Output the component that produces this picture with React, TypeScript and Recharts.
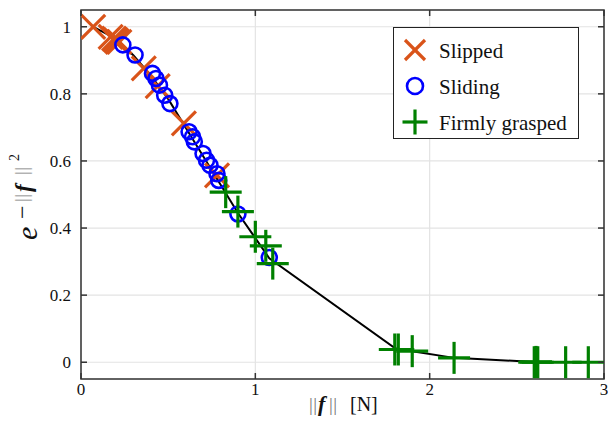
import { ComposedChart, Line, Scatter, XAxis, YAxis, CartesianGrid, ReferenceArea, Legend } from 'recharts'

// fitted curve
const curveX = [0.07, 0.2, 0.3, 0.4, 0.5, 0.6, 0.7, 0.8, 0.9, 1.0, 1.08, 1.8, 1.9, 2.14, 2.6, 2.91]
const curveY = [1.0, 0.965, 0.915, 0.855, 0.785, 0.70, 0.615, 0.53, 0.445, 0.37, 0.31, 0.042, 0.033, 0.013, 0.001, 0.0]

const slippedX = [0.07, 0.17, 0.19, 0.2, 0.21, 0.22, 0.36, 0.44, 0.59, 0.78]
const slippedY = [1.0, 0.97, 0.965, 0.96, 0.955, 0.955, 0.876, 0.823, 0.712, 0.557]

const slidingX = [0.24, 0.31, 0.41, 0.43, 0.45, 0.48, 0.51, 0.62, 0.64, 0.65, 0.7, 0.72, 0.74, 0.78, 0.79, 0.9, 1.08]
const slidingY = [0.946, 0.916, 0.861, 0.846, 0.826, 0.796, 0.771, 0.687, 0.672, 0.657, 0.622, 0.602, 0.587, 0.562, 0.542, 0.442, 0.312]

const graspedX = [0.83, 0.9, 1.0, 1.06, 1.1, 1.8, 1.82, 1.9, 2.14, 2.6, 2.61, 2.62, 2.78, 2.91]
const graspedY = [0.507, 0.449, 0.374, 0.347, 0.294, 0.038, 0.038, 0.033, 0.013, 0.0, 0.001, 0.0, 0.0, 0.0]

const xTicks = [0, 1, 2, 3]
const yTicks = [0, 0.2, 0.4, 0.6, 0.8, 1]

const zip = (xs: number[], ys: number[]) => xs.map((x, i) => ({ x, y: ys[i] }))
const curve = zip(curveX, curveY)
const slipped = zip(slippedX, slippedY)
const sliding = zip(slidingX, slidingY)
const grasped = zip(graspedX, graspedY)

const ORANGE = '#D95319'
const BLUE = '#0000FF'
const GREEN = '#008000'
const FONT = 'Liberation Serif'
const TOP = 10
const RIGHT = 604

const XMark = ({ cx, cy, s = 12 }: any) => (
  <g stroke={ORANGE} strokeWidth={3.2}>
    <line x1={cx - s} y1={cy - s} x2={cx + s} y2={cy + s} />
    <line x1={cx - s} y1={cy + s} x2={cx + s} y2={cy - s} />
  </g>
)
const OMark = ({ cx, cy, r = 7.5 }: any) => (
  <circle cx={cx} cy={cy} r={r} fill="none" stroke={BLUE} strokeWidth={2.6} />
)
const PlusMark = ({ cx, cy, s = 16 }: any) => (
  <g stroke={GREEN} strokeWidth={3.2}>
    <line x1={cx - s} y1={cy} x2={cx + s} y2={cy} />
    <line x1={cx} y1={cy - s} x2={cx} y2={cy + s} />
  </g>
)

const XTick = ({ x, y, payload }: any) => (
  <g>
    <line x1={x} x2={x} y1={y} y2={y - 6} stroke="#333" strokeWidth={1.5} />
    <line x1={x} x2={x} y1={TOP} y2={TOP + 6} stroke="#333" strokeWidth={1.5} />
    <text x={x} y={y + 16} textAnchor="middle" fontFamily={FONT} fontSize={17} fill="#111">{payload.value}</text>
  </g>
)

const YTick = ({ x, y, payload }: any) => (
  <g>
    <line x1={x} x2={x + 6} y1={y} y2={y} stroke="#333" strokeWidth={1.5} />
    <line x1={RIGHT} x2={RIGHT - 6} y1={y} y2={y} stroke="#333" strokeWidth={1.5} />
    <text x={x - 10} y={y + 6} textAnchor="end" fontFamily={FONT} fontSize={17} fill="#111">{payload.value}</text>
  </g>
)

const XTitle = () => {
  const y = 411
  return (
    <text y={y} fontFamily={FONT} fontSize={20} fill="#111">
      <tspan x={309} fill="#777" fontSize={19} letterSpacing={0.5}>||</tspan>
      <tspan x={318} fontStyle="italic" fontWeight="bold" fontSize={22}>f</tspan>
      <tspan x={329} fill="#777" fontSize={19} letterSpacing={0.5}>||</tspan>
      <tspan x={350}>[N]</tspan>
    </text>
  )
}

const YTitle = () => {
  const cx = 37
  const cy = 240
  return (
    <text x={cx} y={cy} transform={`rotate(-90, ${cx}, ${cy})`} fontFamily={FONT} fill="#111">
      <tspan x={cx} y={cy} fontStyle="italic" fontSize={30}>e</tspan>
      <tspan x={cx + 21} y={cy - 7} fontSize={24}>−</tspan>
      <tspan x={cx + 38} y={cy - 9} fontSize={19} fill="#777" letterSpacing={0.5}>||</tspan>
      <tspan x={cx + 48} y={cy - 6} fontSize={23} fontStyle="italic" fontWeight="bold">f</tspan>
      <tspan x={cx + 65} y={cy - 9} fontSize={19} fill="#777" letterSpacing={0.5}>||</tspan>
      <tspan x={cx + 79} y={cy - 18} fontSize={14}>2</tspan>
    </text>
  )
}

const legendItems = [
  { name: 'Slipped', mark: <XMark cx={11} cy={11} s={10} /> },
  { name: 'Sliding', mark: <OMark cx={11} cy={11} r={8} /> },
  { name: 'Firmly grasped', mark: <PlusMark cx={11} cy={11} s={12.5} /> },
]

const LegendBox = () => (
  <div style={{ width: 186, height: 112, border: '1.5px solid #222', background: '#fff', fontFamily: FONT, fontSize: 21, color: '#111', padding: '5px 0 0 10px', boxSizing: 'border-box' }}>
    {legendItems.map((it) => (
      <div key={it.name} style={{ display: 'flex', alignItems: 'center', height: 36 }}>
        <svg width={24} height={24} style={{ overflow: 'visible', marginRight: 11 }}>{it.mark}</svg>
        <span>{it.name}</span>
      </div>
    ))}
  </div>
)

export default function App() {
  return (
    <div style={{ position: 'absolute', left: 0, top: 0, background: '#fff' }}>
      <ComposedChart width={608} height={422} margin={{ top: TOP, right: 4, left: 0, bottom: 0 }}>
        <CartesianGrid stroke="#e3e3e3" strokeWidth={1.2} />
        <XAxis
          type="number"
          dataKey="x"
          domain={[0, 3]}
          ticks={xTicks}
          allowDataOverflow
          height={43}
          axisLine={false}
          tickLine={false}
          tickSize={0}
          tickMargin={0}
          tick={<XTick />}
          label={<XTitle />}
        />
        <YAxis
          type="number"
          dataKey="y"
          domain={[-0.05, 1.05]}
          ticks={yTicks}
          allowDataOverflow
          width={81}
          axisLine={false}
          tickLine={false}
          tickSize={0}
          tickMargin={0}
          tick={<YTick />}
          label={<YTitle />}
        />
        <Line data={curve} dataKey="y" type="linear" stroke="#000" strokeWidth={2} dot={false} isAnimationActive={false} />
        <Scatter name="Slipped" data={slipped} shape={(p: any) => <XMark cx={p.cx} cy={p.cy} />} isAnimationActive={false} />
        <Scatter name="Sliding" data={sliding} shape={(p: any) => <OMark cx={p.cx} cy={p.cy} />} isAnimationActive={false} />
        <Scatter name="Firmly grasped" data={grasped} shape={(p: any) => <PlusMark cx={p.cx} cy={p.cy} />} isAnimationActive={false} />
        <ReferenceArea x1={0} x2={3} y1={-0.05} y2={1.05} fill="none" stroke="#333" strokeWidth={1.5} />
        <Legend
          layout="horizontal"
          verticalAlign="middle"
          align="center"
          wrapperStyle={{ position: 'absolute', left: 393, top: 27, width: 'auto' }}
          content={<LegendBox />}
        />
      </ComposedChart>
    </div>
  )
}
